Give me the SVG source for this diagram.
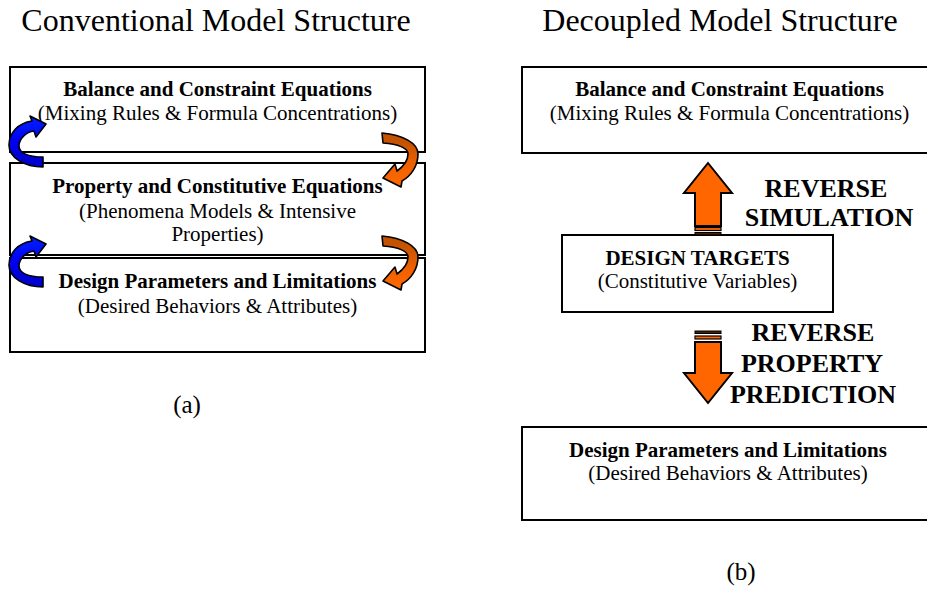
<svg xmlns="http://www.w3.org/2000/svg" width="927" height="590" viewBox="0 0 927 590">
  <style>
    .title { font-family: "Liberation Serif", "Times New Roman", serif; font-size: 32px; fill: #000; text-anchor: middle; }
    .hd { font-family: "Liberation Serif", "Times New Roman", serif; font-size: 21px; font-weight: bold; fill: #000; text-anchor: middle; }
    .sub { font-family: "Liberation Serif", "Times New Roman", serif; font-size: 21px; fill: #000; text-anchor: middle; }
    .big { font-family: "Liberation Serif", "Times New Roman", serif; font-size: 26px; font-weight: bold; fill: #000; text-anchor: middle; }
    .cap { font-family: "Liberation Serif", "Times New Roman", serif; font-size: 25px; fill: #000; text-anchor: middle; }
    .box { fill: #fff; stroke: #000; stroke-width: 2; }
    .blue { fill: url(#gBlue); stroke: #000; stroke-width: 1.6; stroke-linejoin: round; }
    .orng { fill: url(#gOrange); stroke: #000; stroke-width: 1.6; stroke-linejoin: round; }
    .blk { fill: #FF6600; stroke: #000; stroke-width: 2; stroke-linejoin: miter; }
    .strip { fill: #FF6600; stroke: #000; stroke-width: 1.2; }
    .dark { fill: #4a2000; stroke: #000; stroke-width: 1; }
  </style>
  <defs>
    <linearGradient id="gBlue" x1="0" y1="1" x2="0" y2="0">
      <stop offset="0" stop-color="#0000C8"/>
      <stop offset="0.5" stop-color="#0000F0"/>
      <stop offset="1" stop-color="#0022FF"/>
    </linearGradient>
    <linearGradient id="gOrange" x1="0" y1="0" x2="0" y2="1">
      <stop offset="0.15" stop-color="#C45200"/>
      <stop offset="0.6" stop-color="#F06000"/>
      <stop offset="1" stop-color="#FF6A00"/>
    </linearGradient>
    <!-- curved feedback arrows used on the stacked layers -->
    <path id="curveUp" d="M 43 157 C 28 157, 19 153, 19 146 C 19 139, 26 132, 34 131 L 36 137 L 46 124 L 30 116 L 32 121 C 18 123, 9 133, 9 145 C 9 158, 25 167, 43 167 Z"/>
    <path id="curveDown" d="M 382 133 C 403 135, 418 143, 418 154 C 418 166, 411 176, 402 181 L 401 187 L 383 178 L 395 164 L 397 171 C 404 166, 408 160, 408 154 C 408 148, 398 144, 383 143 Z"/>
  </defs>

  <rect width="927" height="590" fill="#fff"/>

  <!-- headings -->
  <text class="title" x="216" y="31">Conventional Model Structure</text>
  <text class="title" x="720" y="31">Decoupled Model Structure</text>

  <!-- (a) conventional stack -->
  <g id="conv-balance">
    <rect class="box" x="10" y="67" width="415" height="85"/>
    <text class="hd" x="217.5" y="96">Balance and Constraint Equations</text>
    <text class="sub" x="217.5" y="120">(Mixing Rules &amp; Formula Concentrations)</text>
  </g>
  <g id="conv-property">
    <rect class="box" x="10" y="163" width="415" height="92"/>
    <text class="hd" x="217.5" y="193">Property and Constitutive Equations</text>
    <text class="sub" x="217.5" y="218">(Phenomena Models &amp; Intensive</text>
    <text class="sub" x="217.5" y="241">Properties)</text>
  </g>
  <g id="conv-design">
    <rect class="box" x="10" y="258" width="415" height="94"/>
    <text class="hd" x="217.5" y="288">Design Parameters and Limitations</text>
    <text class="sub" x="217.5" y="313">(Desired Behaviors &amp; Attributes)</text>
  </g>
  <text class="cap" x="187" y="413">(a)</text>

  <!-- (b) decoupled layout -->
  <g id="dec-balance">
    <rect class="box" x="522" y="67" width="420" height="86"/>
    <text class="hd" x="729.5" y="96">Balance and Constraint Equations</text>
    <text class="sub" x="729.5" y="120">(Mixing Rules &amp; Formula Concentrations)</text>
  </g>
  <g id="dec-targets">
    <rect class="box" x="562" y="235" width="271" height="77"/>
    <text class="hd" x="697.5" y="265">DESIGN TARGETS</text>
    <text class="sub" x="697.5" y="288">(Constitutive Variables)</text>
  </g>
  <g id="dec-design">
    <rect class="box" x="522" y="427" width="420" height="93"/>
    <text class="hd" x="728" y="457">Design Parameters and Limitations</text>
    <text class="sub" x="728" y="480">(Desired Behaviors &amp; Attributes)</text>
  </g>
  <text class="cap" x="741" y="580">(b)</text>

  <!-- connectors -->
  <g id="connectors">
    <use href="#curveUp" class="blue"/>
    <use href="#curveUp" class="blue" transform="translate(0,120)"/>
    <use href="#curveDown" class="orng"/>
    <use href="#curveDown" class="orng" transform="translate(0,103)"/>

    <!-- reverse simulation: targets up to balance layer -->
    <g id="arrow-up">
      <path class="blk" d="M 708 163 L 732 193 L 721 193 L 721 226 L 695 226 L 695 193 L 684 193 Z"/>
      <rect class="strip" x="695" y="227.5" width="26" height="3"/>
      <rect class="dark" x="695" y="232.5" width="26" height="2.5"/>
    </g>
    <!-- reverse property prediction: targets down to design layer -->
    <g id="arrow-down">
      <rect class="dark" x="695" y="331" width="26" height="2.5"/>
      <rect class="strip" x="695" y="336" width="26" height="3"/>
      <path class="blk" d="M 695 342 L 721 342 L 721 373 L 732 373 L 708 403 L 684 373 L 695 373 Z"/>
    </g>

    <text class="big" x="826" y="197">REVERSE</text>
    <text class="big" x="829" y="226">SIMULATION</text>
    <text class="big" x="813" y="341">REVERSE</text>
    <text class="big" x="812" y="372">PROPERTY</text>
    <text class="big" x="813" y="403">PREDICTION</text>
  </g>
</svg>
